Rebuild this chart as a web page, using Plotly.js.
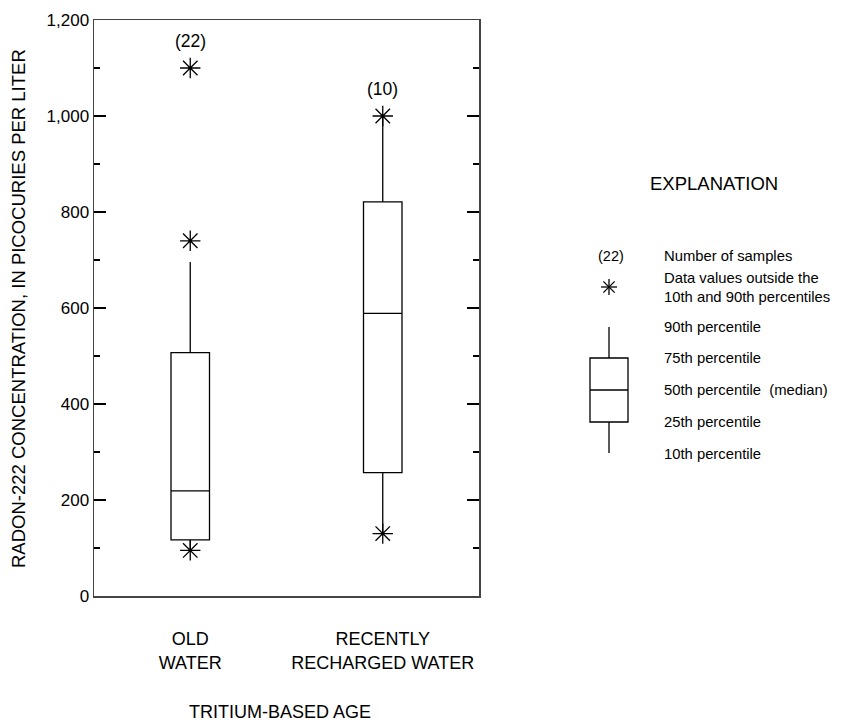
<!DOCTYPE html>
<html>
<head>
<meta charset="utf-8">
<script src="https://cdn.plot.ly/plotly-3.0.1.min.js"></script>
<style>html,body{margin:0;padding:0;background:#fff;}#chart{width:860px;height:725px;}</style>
</head>
<body>
<div id="chart"></div>
<script>
// ---- data ----
const categories = ['OLD<br>WATER', 'RECENTLY<br>RECHARGED WATER'];
const sampleCounts = [22, 10];
const p10 = [95, 130];
const p25 = [117, 257];
const p50 = [219, 589];
const p75 = [507, 821];
const p90 = [696, 1000];
const outlierCategory = ['OLD<br>WATER', 'OLD<br>WATER', 'OLD<br>WATER', 'RECENTLY<br>RECHARGED WATER', 'RECENTLY<br>RECHARGED WATER'];
const outlierValue = [1100, 740, 95, 1000, 130];
const yTickValues = [0, 200, 400, 600, 800, 1000, 1200];
const legendLabels = ['Number of samples', 'Data values outside the<br>10th and 90th percentiles', '90th percentile', '75th percentile', '50th percentile  (median)', '25th percentile', '10th percentile'];

// ---- layout helpers (pixel -> paper) ----
const L = 94, R = 479, T = 20, B = 596;
const fx = px => (px - L) / (R - L);
const fy = py => (B - py) / (B - T);
const FONT = 'Liberation Sans, Arial, sans-serif';

const traces = [
  {
    type: 'box',
    x: categories,
    q1: p25, median: p50, q3: p75,
    lowerfence: p10, upperfence: p90,
    boxpoints: false,
    width: 0.2,
    whiskerwidth: 0,
    fillcolor: 'rgba(0,0,0,0)',
    line: {color: '#000', width: 1.3},
    hoverinfo: 'skip',
    showlegend: false
  },
  {
    type: 'scatter', mode: 'markers',
    x: outlierCategory, y: outlierValue,
    marker: {symbol: 'asterisk-open', size: 17, color: '#000', line: {color: '#000', width: 1.3}},
    showlegend: false, hoverinfo: 'skip'
  }
];

const txt = (x, y, text, size, extra) => Object.assign({x: fx(x), y: fy(y), xref: 'paper', yref: 'paper',
  xanchor: 'center', yanchor: 'middle', text: text, showarrow: false,
  font: {family: FONT, size: size, color: '#000'}}, extra || {});

const annotations = [];
// sample counts above each group
categories.forEach((c, i) => {
  const vals = outlierValue.filter((v, j) => outlierCategory[j] === c).concat([p90[i]]);
  annotations.push({x: c, y: Math.max(...vals), xref: 'x', yref: 'y', yshift: 27,
    xanchor: 'center', yanchor: 'middle',
    text: '(' + sampleCounts[i] + ')', showarrow: false, font: {family: FONT, size: 17.5, color: '#000'}});
});
annotations.push(txt(18, 309, 'RADON-222 CONCENTRATION, IN PICOCURIES PER LITER', 18.5, {textangle: -90}));
annotations.push(txt(280, 712, 'TRITIUM-BASED AGE', 18));
annotations.push(txt(714, 183, 'EXPLANATION', 18.5));
annotations.push(txt(611, 256, '(22)', 14.5));
const legendY = [256, 287, 327, 358, 390, 422, 454];
legendLabels.forEach((t, i) => {
  annotations.push(txt(662, legendY[i], t, 14.8, {xanchor: 'left', align: 'left'}));
});

const lineS = (x0, y0, x1, y1) => ({type: 'line', xref: 'paper', yref: 'paper',
  x0: fx(x0), y0: fy(y0), x1: fx(x1), y1: fy(y1), line: {color: '#000', width: 1.3}});
const shapes = [
  {type: 'rect', xref: 'paper', yref: 'paper', x0: fx(590), x1: fx(628), y0: fy(422), y1: fy(358),
    line: {color: '#000', width: 1.3}},
  lineS(590, 390, 628, 390),
  lineS(609, 327, 609, 358),
  lineS(609, 422, 609, 453)
];
// legend asterisk
const ax = 609, ay = 287, r = 8, d = r * 0.7071;
shapes.push(lineS(ax - r, ay, ax + r, ay), lineS(ax, ay - r, ax, ay + r),
  lineS(ax - d, ay - d, ax + d, ay + d), lineS(ax - d, ay + d, ax + d, ay - d));

const layout = {
  width: 860, height: 725,
  margin: {l: L, r: 860 - R, t: T, b: 725 - B},
  paper_bgcolor: '#fff', plot_bgcolor: '#fff',
  showlegend: false,
  font: {family: FONT, size: 15, color: '#000'},
  xaxis: {
    type: 'category', range: [-0.5, 1.5],
    showline: true, mirror: true, linecolor: '#444', linewidth: 1.5,
    ticks: '', showgrid: false, zeroline: false,
    ticklabelstandoff: 26,
    tickfont: {family: FONT, size: 18, color: '#000'}
  },
  yaxis: {
    range: [0, 1200], tickvals: yTickValues, tickformat: ',d',
    showline: true, mirror: 'ticks', linecolor: '#444', linewidth: 1.5,
    ticks: 'inside', ticklen: 12, tickcolor: '#000', tickwidth: 1.3,
    minor: {dtick: 100, ticks: 'inside', ticklen: 6, tickcolor: '#000', tickwidth: 1.3, showgrid: false},
    showgrid: false, zeroline: false,
    tickfont: {family: FONT, size: 17, color: '#000'}
  },
  annotations: annotations,
  shapes: shapes
};

Plotly.newPlot('chart', traces, layout, {staticPlot: true, displayModeBar: false});
</script>
</body>
</html>
